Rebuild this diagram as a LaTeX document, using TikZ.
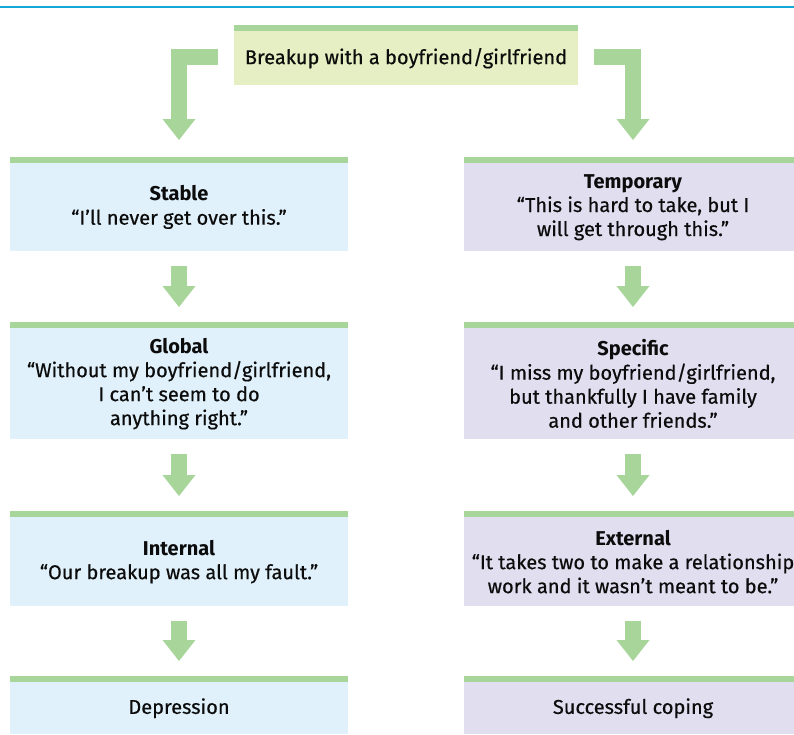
\documentclass[tikz,border=0pt]{standalone}
\usepackage{fontspec}
\setmainfont{Fira Sans}[UprightFeatures={FakeBold=0.5}]
\usetikzlibrary{arrows.meta,calc}
\definecolor{barg}{HTML}{A8D69A}
\definecolor{bluef}{HTML}{E0F1FB}
\definecolor{lavf}{HTML}{E1DEF0}
\definecolor{topf}{HTML}{E6EFC3}
\definecolor{topline}{HTML}{12A9D6}
\definecolor{txt}{HTML}{0C0C0C}
\pgfdeclarelayer{bg}
\pgfsetlayers{bg,main}
\begin{document}
\begin{tikzpicture}[x=1pt,y=-1pt,
  font=\fontsize{20}{24}\selectfont, text=txt,
  box/.style={inner sep=0pt, minimum width=338pt, align=center, anchor=north},
  lbox/.style={box, fill=bluef},
  rbox/.style={box, fill=lavf},
  topbox/.style={box, fill=topf, minimum width=344pt},
  bar/.style={fill=barg},
  fat/.style={draw=barg, line width=16pt, line join=miter,
    -{Triangle[width=33pt,length=21pt,line width=0pt]}},
  glowline/.style={draw=barg, line width=#1, opacity=0.09, line cap=round, line join=round},
]
\useasboundingbox (0,0) rectangle (794,734);
\clip (0,0) rectangle (794,734);
\fill[white] (0,0) rectangle (794,734);
\fill[topline] (0,5.6) rectangle (794,8.2);

% boxes
\node[topbox, minimum height=54pt] (top) at (406,31) {Breakup with a boyfriend/girlfriend};
\node[lbox, minimum height=88pt] (stable) at (179,163)
  {\textbf{Stable}\\“I’ll never get over this.”};
\node[rbox, minimum height=88pt] (temp) at (633,163)
  {\textbf{Temporary}\\“This is hard to take, but I\\will get through this.”};
\node[lbox, minimum height=111pt] (global) at (179,328)
  {\textbf{Global}\\“Without my boyfriend/girlfriend,\\I can’t seem to do\\anything right.”};
\node[rbox, minimum height=111pt] (specific) at (633,328)
  {\textbf{Specific}\\“I miss my boyfriend/girlfriend,\\but thankfully I have family\\and other friends.”};
\node[lbox, minimum height=89pt] (internal) at (179,517)
  {\textbf{Internal}\\“Our breakup was all my fault.”};
\node[rbox, minimum height=89pt] (external) at (633,517)
  {\textbf{External}\\“It takes two to make a relationship\\work and it wasn’t meant to be.”};
\node[lbox, minimum height=52pt] (depression) at (179,682) {Depression};
\node[rbox, minimum height=52pt] (coping) at (633,682) {Successful coping};

% green bars on top of each box
\foreach \n in {top,stable,temp,global,specific,internal,external,depression,coping}
  \fill[bar] (\n.north west) rectangle ($(\n.north east)+(0,6pt)$);

% connector coordinates
\coordinate (ls) at ($(top.north west)+(-16pt,-26pt)$);
\coordinate (rs) at ($(top.north east)+(16pt,-26pt)$);
\coordinate (lc) at (stable.north |- ls);
\coordinate (rc) at (temp.north |- rs);

% glows
\begin{pgfonlayer}{bg}
  \foreach \w in {58pt,48pt,38pt,28pt}{
    \draw[glowline=\w] (ls) -- (lc) -- ($(stable.north)+(0,26pt)$);
    \draw[glowline=\w] (rs) -- (rc) -- ($(temp.north)+(0,26pt)$);
    \foreach \a/\b in {stable/global,global/internal,internal/depression,
                       temp/specific,specific/external,external/coping}
      \draw[glowline=\w] ($(\a.south)+(0,-18pt)$) -- ($(\b.north)+(0,24pt)$);
  }
\end{pgfonlayer}

% arrows
\draw[fat] (ls) -- (lc) -- ($(stable.north)+(0,23pt)$);
\draw[fat] (rs) -- (rc) -- ($(temp.north)+(0,23pt)$);
\foreach \a/\b in {stable/global,global/internal,internal/depression,
                   temp/specific,specific/external,external/coping}
  \draw[fat] ($(\a.south)+(0,-15pt)$) -- ($(\b.north)+(0,21pt)$);
\end{tikzpicture}
\end{document}
